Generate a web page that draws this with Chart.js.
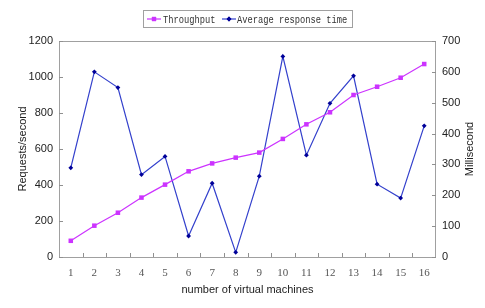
<!DOCTYPE html>
<html>
<head>
<meta charset="utf-8">
<script src="https://cdn.jsdelivr.net/npm/chart.js@4.4.0/dist/chart.umd.min.js"></script>
<style>
html,body{margin:0;padding:0;background:#fff;}
#wrap{width:485px;height:308px;}
</style>
</head>
<body>
<div id="wrap"><canvas id="c" width="485" height="308"></canvas></div>
<script>
const categories = ['1','2','3','4','5','6','7','8','9','10','11','12','13','14','15','16'];
const throughput = [90, 174, 246, 330, 402, 476, 520, 552, 580, 656, 737, 804, 900, 946, 996, 1072];
const responseTime = [289, 600, 549, 267, 326, 68, 239, 15, 262, 650, 330, 498, 587, 236, 191, 425];
const leftTicks = [0, 200, 400, 600, 800, 1000, 1200];
const rightTicks = [0, 100, 200, 300, 400, 500, 600, 700];
const seriesNames = ['Throughput', 'Average response time'];
const axisTitles = {x: 'number of virtual machines', y: 'Requests/second', y1: 'Millisecond'};

const MAG = '#CC33FF';
const BLUE_LINE = '#3340CC';
const BLUE_PT = '#000099';
const BORDER = '#A0A0A0';
const SANS = '"Liberation Sans", Arial, sans-serif';

const framePlugin = {
  id: 'frame',
  afterDraw(chart) {
    const ctx = chart.ctx;
    const a = chart.chartArea;
    ctx.save();
    ctx.strokeStyle = BORDER;
    ctx.lineWidth = 1;
    ctx.strokeRect(Math.round(a.left) + 0.5, Math.round(a.top) + 0.5, Math.round(a.right - a.left) - 1, Math.round(a.bottom - a.top));
    // inward tick marks
    ctx.strokeStyle = '#909090';
    ctx.beginPath();
    const xs = chart.scales.x;
    for (let i = 1; i < categories.length; i++) {
      const px = Math.round((xs.getPixelForTick(i - 1) + xs.getPixelForTick(i)) / 2) + 0.5;
      ctx.moveTo(px, a.bottom);
      ctx.lineTo(px, a.bottom - 4);
    }
    const ys = chart.scales.y;
    leftTicks.forEach(v => {
      const py = Math.round(ys.getPixelForValue(v)) + 0.5;
      ctx.moveTo(a.left, py);
      ctx.lineTo(a.left + 4, py);
    });
    const y1 = chart.scales.y1;
    rightTicks.forEach(v => {
      const py = Math.round(y1.getPixelForValue(v)) + 0.5;
      ctx.moveTo(a.right, py);
      ctx.lineTo(a.right - 4, py);
    });
    ctx.stroke();

    // right axis title (reads bottom to top)
    ctx.save();
    ctx.translate(470, (a.top + a.bottom) / 2);
    ctx.rotate(-Math.PI / 2);
    ctx.font = '11px ' + SANS;
    ctx.fillStyle = '#222';
    ctx.textAlign = 'center';
    ctx.textBaseline = 'middle';
    ctx.fillText(axisTitles.y1, 0, 0);
    ctx.restore();

    // legend
    const lx = 143.5, ly = 10.5, lw = 209, lh = 17;
    ctx.strokeStyle = '#A0A0A0';
    ctx.lineWidth = 1;
    ctx.strokeRect(lx, ly, lw, lh);
    const cy = ly + lh / 2;
    ctx.font = '11px "Liberation Mono", monospace';
    ctx.textBaseline = 'middle';
    ctx.textAlign = 'left';
    const items = [
      {x: 147, color: MAG, pt: MAG, style: 'rect', r: 3, textX: 163},
      {x: 222, color: BLUE_LINE, pt: BLUE_PT, style: 'rectRot', r: 2.4, textX: 237}
    ];
    items.forEach((it, i) => {
      ctx.strokeStyle = it.color;
      ctx.lineWidth = 1.2;
      ctx.beginPath();
      ctx.moveTo(it.x, cy);
      ctx.lineTo(it.x + 14, cy);
      ctx.stroke();
      ctx.fillStyle = it.pt;
      Chart.helpers.drawPoint(ctx, {pointStyle: it.style, radius: it.r, rotation: 0, borderWidth: 0}, it.x + 7, cy);
      ctx.fill();
      ctx.fillStyle = '#333';
      const name = seriesNames[i];
      ctx.fillText(name, it.textX, cy + 1, name.length * 5.25);
    });
    ctx.restore();
  }
};

new Chart(document.getElementById('c'), {
  type: 'line',
  data: {
    labels: categories,
    datasets: [
      {
        label: seriesNames[0],
        data: throughput,
        yAxisID: 'y',
        borderColor: MAG,
        backgroundColor: MAG,
        borderWidth: 1.2,
        pointStyle: 'rect',
        pointRadius: 3.2,
        pointBorderWidth: 0,
        tension: 0
      },
      {
        label: seriesNames[1],
        data: responseTime,
        yAxisID: 'y1',
        borderColor: BLUE_LINE,
        backgroundColor: BLUE_PT,
        borderWidth: 1.2,
        pointStyle: 'rectRot',
        pointRadius: 2.4,
        pointBorderWidth: 0,
        tension: 0
      }
    ]
  },
  options: {
    responsive: false,
    animation: false,
    layout: {padding: {top: 41, left: 0, right: 0, bottom: 0}},
    plugins: {
      legend: {display: false},
      tooltip: {enabled: false}
    },
    scales: {
      x: {
        offset: true,
        grid: {display: false, drawTicks: false, offset: true},
        border: {display: false},
        ticks: {
          color: '#555',
          font: {family: '"Liberation Serif", serif', size: 11},
          padding: 10,
          maxRotation: 0,
          autoSkip: false
        },
        title: {
          display: true,
          text: axisTitles.x,
          color: '#222',
          font: {family: SANS, size: 11},
          padding: {top: 0, bottom: 11}
        },
        afterFit(s) { s.height = 51; }
      },
      y: {
        position: 'left',
        min: 0, max: 1200,
        afterBuildTicks(s) { s.ticks = leftTicks.map(v => ({value: v})); },
        grid: {display: false, drawTicks: false},
        border: {display: false},
        ticks: {
          color: '#222',
          font: {family: SANS, size: 11},
          padding: 6,
          callback: v => String(v)
        },
        title: {
          display: true,
          text: axisTitles.y,
          color: '#222',
          font: {family: SANS, size: 11},
          padding: {top: 16, bottom: 0}
        },
        afterFit(s) { s.width = 59; }
      },
      y1: {
        position: 'right',
        min: 0, max: 700,
        afterBuildTicks(s) { s.ticks = rightTicks.map(v => ({value: v})); },
        grid: {display: false, drawTicks: false},
        border: {display: false},
        ticks: {
          color: '#222',
          font: {family: SANS, size: 11},
          padding: 6,
          callback: v => String(v)
        },
        title: {display: false},
        afterFit(s) { s.width = 49; }
      }
    }
  },
  plugins: [framePlugin]
});
</script>
</body>
</html>
